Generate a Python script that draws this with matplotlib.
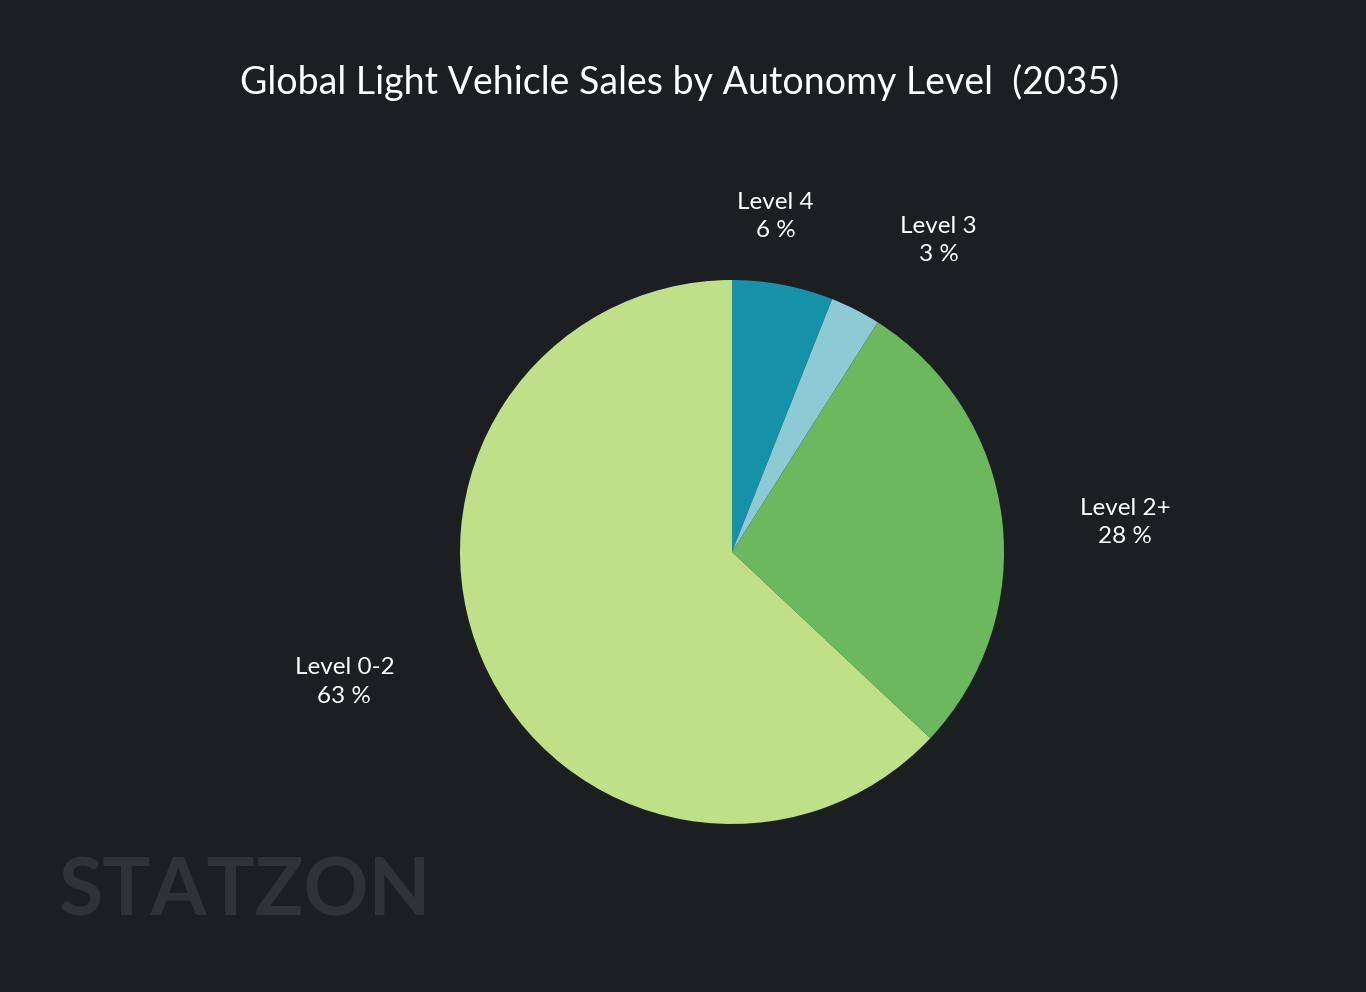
import matplotlib.pyplot as plt

# 数据
labels = ['Level 4', 'Level 3', 'Level 2+', 'Level 0-2']
shares = [6, 3, 28, 63]
colors = ['#1592a8', '#8ecad4', '#6bb95c', '#bfe087']
# label placement (axes data units, pie radius = 1)
label_pos = [(0.16, 1.235), (0.76, 1.145), (1.445, 0.11), (-1.425, -0.478)]

bg = '#1c1f22'
plt.rcParams['font.family'] = ['Lato', 'DejaVu Sans']

fig = plt.figure(figsize=(13.66, 9.92), dpi=100, facecolor=bg)

# 饼图区域: 中心 (732, 552) px, 半径 272 px
W, H = 1366, 992
cx, cy, r = 732, 552, 272
ax = fig.add_axes([(cx - r) / W, (H - cy - r) / H, 2 * r / W, 2 * r / H])
ax.set_facecolor(bg)

wedges, _ = ax.pie(shares, colors=colors, startangle=90, counterclock=False,
                   wedgeprops=dict(linewidth=0))
ax.set_xlim(-1, 1)
ax.set_ylim(-1, 1)
ax.set_aspect('equal')
ax.axis('off')

for lab, val, (x, y) in zip(labels, shares, label_pos):
    ax.text(x, y, f'{lab}\n{val} %', ha='center', va='center', color='white',
            fontsize=17.5, linespacing=1.42, clip_on=False)

fig.text(680 / W, 1 - 82 / H, 'Global Light Vehicle Sales by Autonomy Level  (2035)',
         ha='center', va='center', color='white', fontsize=27)

# 水印
fig.text(58 / W, 1 - 892 / H, 'STATZON', ha='left', va='center', color='#2f3337',
         fontsize=58, fontweight='bold')

fig.savefig('out.png', dpi=100, facecolor=bg)
